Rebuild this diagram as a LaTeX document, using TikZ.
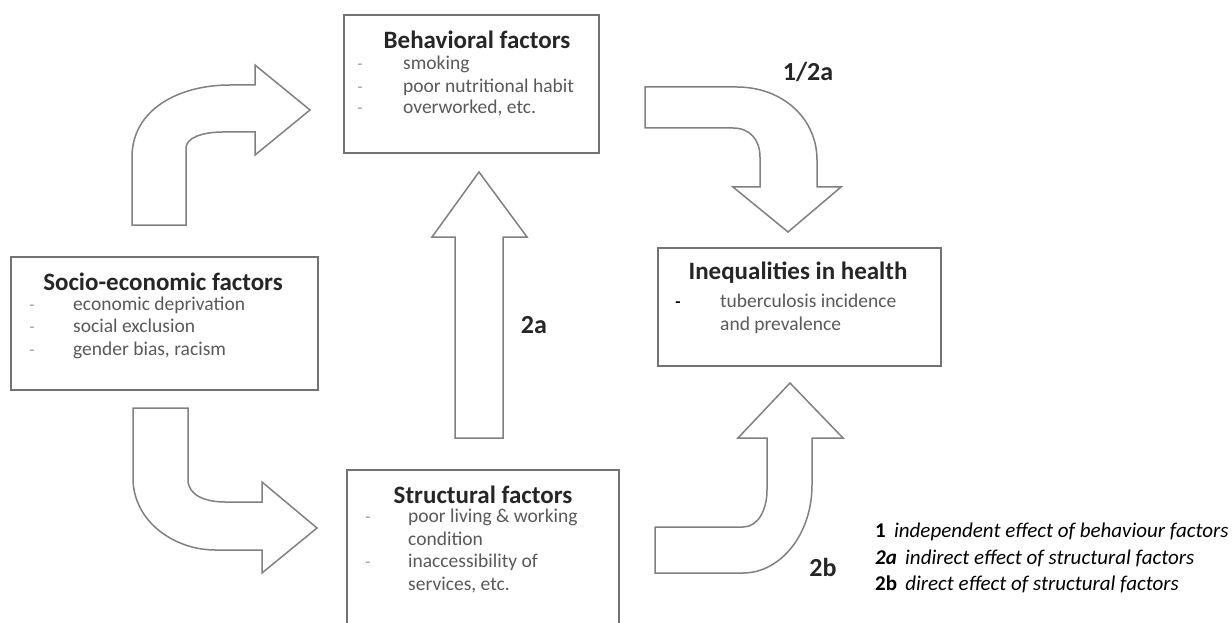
\documentclass[tikz,border=0pt]{standalone}
\usepackage{fontspec}
\setmainfont{Carlito}
\begin{document}
\begin{tikzpicture}[x=1pt,y=-1pt,
  box/.style={draw=black!55,line width=1.8pt,fill=white},
  blockarrow/.style={draw=black!50,line width=1.5pt,fill=white,line join=miter},
  title/.style={font=\fontsize{25}{27}\selectfont\bfseries,text=black!85,inner sep=0pt},
  item/.style={font=\fontsize{19.5}{22}\selectfont,text=black!65,inner sep=0pt,anchor=west,text height=1.5ex,text depth=.3ex},
  bul/.style={font=\fontsize{17}{22}\selectfont,text=black!40,inner sep=0pt,text height=1.5ex,text depth=.3ex},
  lab/.style={font=\fontsize{26}{28}\selectfont\bfseries,text=black!85,inner sep=0pt},
  leg/.style={font=\fontsize{21}{26}\selectfont,text=black,inner sep=0pt,anchor=west,text height=1.5ex,text depth=.3ex}]
\useasboundingbox (0,0) rectangle (1232,623);
\fill[white] (0,0) rectangle (1232,623);

% boxes
\node[box,anchor=north west,minimum width=255pt,minimum height=138pt] (beh) at (343,14) {};
\node[box,anchor=north west,minimum width=307pt,minimum height=133pt] (soc) at (10,256) {};
\node[box,anchor=north west,minimum width=283pt,minimum height=118pt] (ineq) at (657,247) {};
\node[box,anchor=north west,minimum width=272pt,minimum height=180pt] (str) at (346,469) {};

% arrows
\draw[blockarrow] (132,225) -- (132,157) .. controls (132,110) and (178,85) .. (230,85) -- (255,85) -- (255,65) -- (310,110) -- (255,155) -- (255,132) -- (223,132) .. controls (202,132) and (186,138) .. (186,148) -- (186,225) -- cycle;
\draw[blockarrow] (645,87) -- (737,87) .. controls (782,87) and (817,118) .. (817,160) -- (817,187) -- (841,187) -- (788,232) -- (733,187) -- (760,187) -- (760,157) .. controls (760,140) and (750,128) .. (733,128) -- (645,128) -- cycle;
\draw[blockarrow] (455,438) -- (455,237) -- (432,237) -- (479,172) -- (527,237) -- (503,237) -- (503,438) -- cycle;
\draw[blockarrow] (133,408) -- (133,478) .. controls (133,522) and (175,550) .. (215,550) -- (262,550) -- (262,573) -- (317,528) -- (262,482) -- (262,502) -- (225,502) .. controls (205,502) and (188,495) .. (188,480) -- (188,408) -- cycle;
\draw[blockarrow] (655,527) -- (743,527) .. controls (758,527) and (767,510) .. (767,490) -- (767,438) -- (738,438) -- (790,383) -- (843,438) -- (812,438) -- (812,485) .. controls (812,535) and (780,573) .. (743,573) -- (655,573) -- cycle;

% Behavioral
\node[title] (behT) at (477,40) {Behavioral factors};
\node[bul] (behB1) at (360,67) {-};
\node[bul] (behB2) at (360,90) {-};
\node[bul] (behB3) at (360,111) {-};
\node[item] (behI1) at (403,67) {smoking};
\node[item] (behI2) at (403,90) {poor nutritional habit};
\node[item] (behI3) at (403,111) {overworked, etc.};

% Socio-economic
\node[title] (socT) at (163,282) {Socio-economic factors};
\node[bul] (socB1) at (32,308) {-};
\node[bul] (socB2) at (32,330) {-};
\node[bul] (socB3) at (32,353) {-};
\node[item] (socI1) at (73,308) {economic deprivation};
\node[item] (socI2) at (73,330) {social exclusion};
\node[item] (socI3) at (73,353) {gender bias, racism};

% Inequalities
\node[title] (ineqT) at (798,273) {Inequalities in health};
\node[bul,text=black,font=\fontsize{17}{22}\selectfont\bfseries] (ineqB) at (678,305) {-};
\node[item] (ineqI1) at (720,305) {tuberculosis incidence};
\node[item] (ineqI2) at (720,328) {and prevalence};

% Structural
\node[title] (strT) at (483,495) {Structural factors};
\node[bul] (strB1) at (368,520) {-};
\node[bul] (strB2) at (368,565) {-};
\node[item] (strI1) at (408,520) {poor living \& working};
\node[item] (strI2) at (408,543) {condition};
\node[item] (strI3) at (408,565) {inaccessibility of};
\node[item] (strI4) at (408,588) {services, etc.};

% labels
\node[lab] (l12a) at (808,72) {1/2a};
\node[lab] (l2a) at (534,325) {2a};
\node[lab] (l2b) at (823,567) {2b};

% legend
\node[leg] (leg1) at (875,535) {\textbf{1}\, \textit{independent effect of behaviour factors}};
\node[leg] (leg2) at (875,562) {\textbf{\textit{2a}}\, \textit{indirect effect of structural factors}};
\node[leg] (leg3) at (875,588) {\textbf{2b}\, \textit{direct effect of structural factors}};
\end{tikzpicture}
\end{document}
